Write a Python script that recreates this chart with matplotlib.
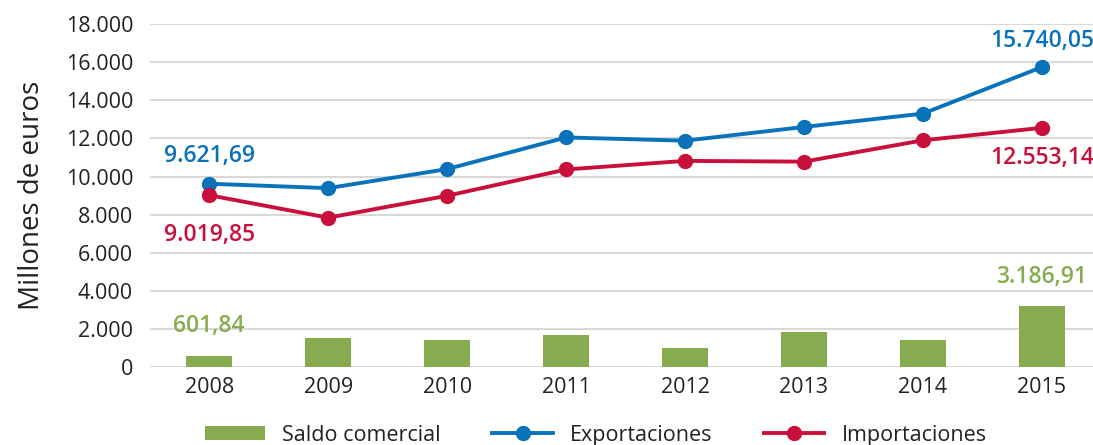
import matplotlib.pyplot as plt
import numpy as np

# ── Data ───────────────────────────────────────────────────────────────────────
years = ["2008", "2009", "2010", "2011", "2012", "2013", "2014", "2015"]
exportaciones = [9621.69, 9390, 10390, 12050, 11880, 12600, 13300, 15740.05]
importaciones = [9019.85, 7840, 8990, 10370, 10820, 10780, 11900, 12553.14]
saldo = [601.84, 1540, 1400, 1680, 1000, 1820, 1420, 3186.91]
yticks = [0, 2000, 4000, 6000, 8000, 10000, 12000, 14000, 16000, 18000]
ytick_labels = ["0", "2.000", "4.000", "6.000", "8.000", "10.000", "12.000",
                "14.000", "16.000", "18.000"]

# ── Style ──────────────────────────────────────────────────────────────────────
plt.rcParams['font.family'] = ['Open Sans', 'DejaVu Sans']
c_exp = '#0A72BA'
c_imp = '#C8103B'
c_sal = '#87AC4F'
c_txt = '#222222'

fig = plt.figure(figsize=(10.93, 4.45), dpi=100)
ax = fig.add_axes([0.137, 0.175, 0.863, 0.771])

x = np.arange(len(years))
bars = ax.bar(x, saldo, width=0.39, color=c_sal, label='Saldo comercial', zorder=2)
l_exp, = ax.plot(x, exportaciones, color=c_exp, lw=2.8, marker='o', ms=10,
                 label='Exportaciones', zorder=3)
l_imp, = ax.plot(x, importaciones, color=c_imp, lw=2.8, marker='o', ms=10,
                 label='Importaciones', zorder=3)

# ── Data labels ────────────────────────────────────────────────────────────────
def lab(i, v, txt, color, dy):
    ax.annotate(txt, (x[i], v), xytext=(0, dy), textcoords='offset points',
                ha='center', va='center', color=color, fontsize=16.5,
                fontweight='semibold')

lab(0, exportaciones[0], "9.621,69", c_exp, 20)
lab(0, importaciones[0], "9.019,85", c_imp, -29)
lab(0, saldo[0], "601,84", c_sal, 21)
lab(7, exportaciones[7], "15.740,05", c_exp, 19)
lab(7, importaciones[7], "12.553,14", c_imp, -22)
lab(7, saldo[7], "3.186,91", c_sal, 21)

# ── Axes ───────────────────────────────────────────────────────────────────────
ax.set_ylim(0, 18000)
ax.set_xlim(-0.5, 7.43)
ax.set_yticks(yticks)
ax.set_yticklabels(ytick_labels)
ax.set_xticks(x)
ax.set_xticklabels(years)
ax.tick_params(axis='both', length=0, labelsize=15.5, colors=c_txt, pad=7)
ax.tick_params(axis='y', pad=12)
ax.grid(axis='y', color='#D9D9D9', lw=1.5, zorder=0)
ax.set_axisbelow(True)
for s in ax.spines.values():
    s.set_visible(False)
ax.set_ylabel("Millones de euros", fontsize=20, color=c_txt, labelpad=14)

fig.legend(handles=[bars, l_exp, l_imp], loc='lower center',
           bbox_to_anchor=(0.545, -0.045), ncol=3, frameon=False, fontsize=15.5,
           handlelength=2.8, handleheight=0.6, columnspacing=2.4,
           labelcolor=c_txt)

fig.savefig("out.png", dpi=100)
